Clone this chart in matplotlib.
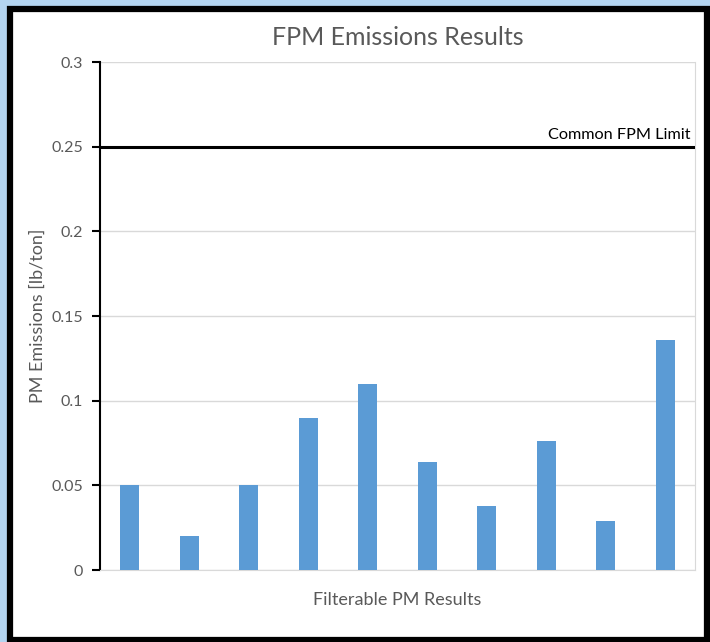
import numpy as np
import matplotlib.pyplot as plt
from matplotlib.patches import Rectangle

# Результаты по фильтруемым частицам, lb/ton
runs = np.arange(1, 11)
pm_values = [0.050, 0.020, 0.050, 0.090, 0.110, 0.064, 0.038, 0.076, 0.029, 0.136]
fpm_limit = 0.25
limit_label = 'Common FPM Limit'
y_ticks = [0, 0.05, 0.1, 0.15, 0.2, 0.25, 0.3]
y_tick_labels = ['0', '0.05', '0.1', '0.15', '0.2', '0.25', '0.3']

plt.rcParams['font.family'] = ['Lato', 'DejaVu Sans']
text_grey = '#595959'
bar_blue = '#5b9bd5'

fig = plt.figure(figsize=(7.10, 6.42), dpi=100)
fig.patch.set_facecolor('#b3d4f0')

# Белая подложка в чёрной рамке (под осями)
frame = Rectangle((10 / 710, 2 / 642), 697 / 710, 631 / 642, transform=fig.transFigure,
                  facecolor='white', edgecolor='black', linewidth=4.5, zorder=-1)
fig.patches.append(frame)

ax = fig.add_axes([100 / 710, (642 - 570) / 642, 595 / 710, 508 / 642])
ax.set_facecolor('none')

ax.bar(runs, pm_values, width=0.32, color=bar_blue, zorder=3)
ax.axhline(fpm_limit, color='black', linewidth=2.2, zorder=4)
ax.text(10.42, fpm_limit + 0.003, limit_label, ha='right', va='bottom',
        fontsize=11.7, color='black')

ax.set_xlim(0.5, 10.5)
ax.set_ylim(0, 0.3)
ax.set_yticks(y_ticks)
ax.set_yticklabels(y_tick_labels)
ax.set_xticks([])
ax.grid(axis='y', color='#d9d9d9', linewidth=1, zorder=0)

for side in ['top', 'right', 'bottom']:
    ax.spines[side].set_color('#d9d9d9')
ax.spines['top'].set_visible(False)
ax.spines['left'].set_color('black')
ax.spines['left'].set_linewidth(1.5)
ax.tick_params(axis='y', direction='out', length=6, width=1.5, color='black',
               labelcolor=text_grey, labelsize=11.5, pad=6)

ax.set_title('FPM Emissions Results', fontsize=18, color=text_grey, pad=12)
ax.set_xlabel('Filterable PM Results', fontsize=13, color=text_grey, labelpad=16)
ax.set_ylabel('PM Emissions [lb/ton]', fontsize=13, color=text_grey, labelpad=4)

fig.savefig('out.png', dpi=100, facecolor=fig.get_facecolor())
